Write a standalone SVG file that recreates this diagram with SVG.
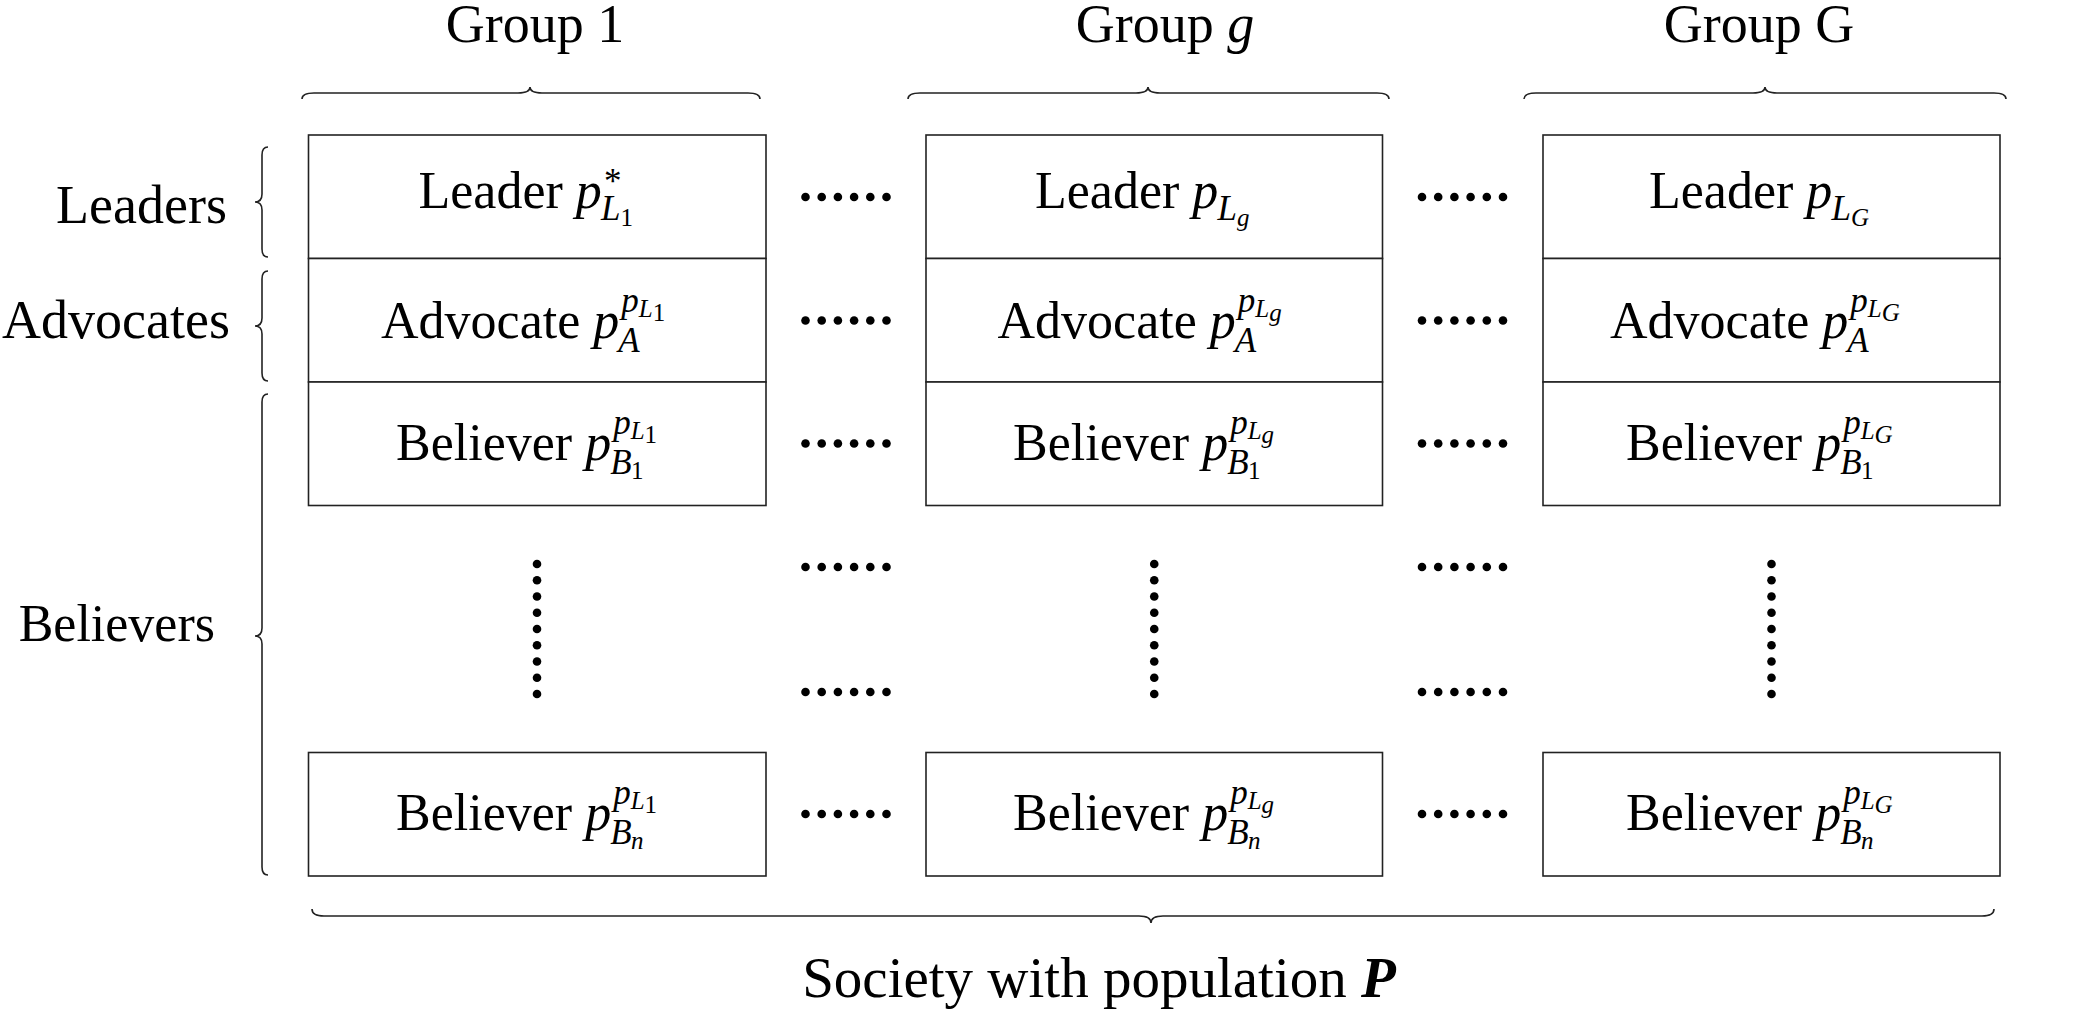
<svg xmlns="http://www.w3.org/2000/svg" width="2080" height="1016" viewBox="0 0 2080 1016">
<style>
text{font-family:"Liberation Serif","Times New Roman",serif;fill:#000}
.m{font-size:52px}
.o{font-size:54px}
.ob{font-size:52px}
.soc{font-size:57px}
.s{font-size:35px}
.ss{font-size:25px}
.i{font-style:italic}
.box{fill:#fff;stroke:#222;stroke-width:1.6}
.br{fill:none;stroke:#222;stroke-width:1.6}
.dot{fill:#000}
</style>
<defs>
<g id="hd"><circle cx="-40.5" cy="0" r="4.3"/><circle cx="-24.3" cy="0" r="4.3"/><circle cx="-8.1" cy="0" r="4.3"/><circle cx="8.1" cy="0" r="4.3"/><circle cx="24.3" cy="0" r="4.3"/><circle cx="40.5" cy="0" r="4.3"/></g>
<g id="vd"><circle cx="0" cy="564" r="4.3"/><circle cx="0" cy="580.25" r="4.3"/><circle cx="0" cy="596.5" r="4.3"/><circle cx="0" cy="612.75" r="4.3"/><circle cx="0" cy="629" r="4.3"/><circle cx="0" cy="645.25" r="4.3"/><circle cx="0" cy="661.5" r="4.3"/><circle cx="0" cy="677.75" r="4.3"/><circle cx="0" cy="694" r="4.3"/></g>
</defs>
<rect width="2080" height="1016" fill="#fff"/>

<g id="titles">
<text class="o" x="535" y="42" text-anchor="middle">Group 1</text>
<text class="o" x="1165" y="42" text-anchor="middle">Group <tspan class="i">g</tspan></text>
<text class="o" x="1759" y="42" text-anchor="middle">Group G</text>
<text class="o" x="227" y="223" text-anchor="end">Leaders</text>
<text class="o" x="230" y="338" text-anchor="end">Advocates</text>
<text class="ob" x="215" y="641" text-anchor="end">Believers</text>
<text class="soc" x="1099" y="997" text-anchor="middle">Society with population <tspan font-weight="bold" font-style="italic">P</tspan></text>
</g>

<g id="braces">
<path class="br" d="M302,99 Q302,93 314,93 L518,93 Q530,93 530,87 Q530,93 542,93 L748,93 Q760,93 760,99"/>
<path class="br" d="M908,99 Q908,93 920,93 L1136,93 Q1148,93 1148,87 Q1148,93 1160,93 L1377,93 Q1389,93 1389,99"/>
<path class="br" d="M1524,99 Q1524,93 1536,93 L1753,93 Q1765,93 1765,87 Q1765,93 1777,93 L1994,93 Q2006,93 2006,99"/>
<path class="br" d="M268,147 Q262,147 262,155 L262,194 Q262,202 255,202 Q262,202 262,210 L262,249 Q262,257 268,257"/>
<path class="br" d="M268,271 Q262,271 262,279 L262,318 Q262,326 255,326 Q262,326 262,334 L262,373 Q262,381 268,381"/>
<path class="br" d="M268,394 Q262,394 262,402 L262,628 Q262,636 255,636 Q262,636 262,644 L262,867 Q262,875 268,875"/>
<path class="br" d="M312,909 Q312,916 324,916 L1139,916 Q1151,916 1151,923 Q1151,916 1163,916 L1982,916 Q1994,916 1994,909"/>
</g>

<g id="col1">
<g id="leader1"><rect class="box" x="308.5" y="135" width="457.5" height="123.5"/>
<text class="m" x="418.5" y="208">Leader <tspan class="i">p</tspan></text>
<text class="s" x="603.9" y="193">*</text><text class="s i" x="600.9" y="220">L</text><text class="ss" x="620.4" y="226">1</text></g>
<g id="advocate1"><rect class="box" x="308.5" y="258.5" width="457.5" height="123.5"/>
<text class="m" x="381" y="338">Advocate <tspan class="i">p</tspan></text>
<text class="s i" x="621.3" y="312">p</text><text class="ss i" x="638.8" y="317">L</text><text class="ss" x="652.7" y="321">1</text><text class="s i" x="618.3" y="352">A</text></g>
<g id="believer1_1"><rect class="box" x="308.5" y="382" width="457.5" height="123.5"/>
<text class="m" x="396" y="460">Believer <tspan class="i">p</tspan></text>
<text class="s i" x="613.2" y="434">p</text><text class="ss i" x="630.7" y="439">L</text><text class="ss" x="644.6" y="443">1</text><text class="s i" x="610.2" y="474">B</text><text class="ss" x="631" y="479">1</text></g>
<g id="believern_1"><rect class="box" x="308.5" y="752.5" width="457.5" height="123.5"/>
<text class="m" x="396" y="830">Believer <tspan class="i">p</tspan></text>
<text class="s i" x="613.2" y="804">p</text><text class="ss i" x="630.7" y="809">L</text><text class="ss" x="644.6" y="813">1</text><text class="s i" x="610.2" y="844">B</text><text class="ss i" x="631" y="849">n</text></g>
</g>

<g id="colg">
<g id="leaderg"><rect class="box" x="926" y="135" width="456.5" height="123.5"/>
<text class="m" x="1035" y="208">Leader <tspan class="i">p</tspan></text>
<text class="s i" x="1217.4" y="220">L</text><text class="ss i" x="1236.9" y="226">g</text></g>
<g id="advocateg"><rect class="box" x="926" y="258.5" width="456.5" height="123.5"/>
<text class="m" x="997.5" y="338">Advocate <tspan class="i">p</tspan></text>
<text class="s i" x="1237.8" y="312">p</text><text class="ss i" x="1255.3" y="317">L</text><text class="ss i" x="1269.2" y="321">g</text><text class="s i" x="1234.8" y="352">A</text></g>
<g id="believer1_g"><rect class="box" x="926" y="382" width="456.5" height="123.5"/>
<text class="m" x="1013" y="460">Believer <tspan class="i">p</tspan></text>
<text class="s i" x="1230.2" y="434">p</text><text class="ss i" x="1247.7" y="439">L</text><text class="ss i" x="1261.6" y="443">g</text><text class="s i" x="1227.2" y="474">B</text><text class="ss" x="1248" y="479">1</text></g>
<g id="believern_g"><rect class="box" x="926" y="752.5" width="456.5" height="123.5"/>
<text class="m" x="1013" y="830">Believer <tspan class="i">p</tspan></text>
<text class="s i" x="1230.2" y="804">p</text><text class="ss i" x="1247.7" y="809">L</text><text class="ss i" x="1261.6" y="813">g</text><text class="s i" x="1227.2" y="844">B</text><text class="ss i" x="1248" y="849">n</text></g>
</g>

<g id="colG">
<g id="leaderG"><rect class="box" x="1543" y="135" width="457" height="123.5"/>
<text class="m" x="1649" y="208">Leader <tspan class="i">p</tspan></text>
<text class="s i" x="1831.4" y="220">L</text><text class="ss i" x="1850.9" y="226">G</text></g>
<g id="advocateG"><rect class="box" x="1543" y="258.5" width="457" height="123.5"/>
<text class="m" x="1610" y="338">Advocate <tspan class="i">p</tspan></text>
<text class="s i" x="1850.3" y="312">p</text><text class="ss i" x="1867.8" y="317">L</text><text class="ss i" x="1881.7" y="321">G</text><text class="s i" x="1847.3" y="352">A</text></g>
<g id="believer1_G"><rect class="box" x="1543" y="382" width="457" height="123.5"/>
<text class="m" x="1626" y="460">Believer <tspan class="i">p</tspan></text>
<text class="s i" x="1843.2" y="434">p</text><text class="ss i" x="1860.7" y="439">L</text><text class="ss i" x="1874.6" y="443">G</text><text class="s i" x="1840.2" y="474">B</text><text class="ss" x="1861" y="479">1</text></g>
<g id="believern_G"><rect class="box" x="1543" y="752.5" width="457" height="123.5"/>
<text class="m" x="1626" y="830">Believer <tspan class="i">p</tspan></text>
<text class="s i" x="1843.2" y="804">p</text><text class="ss i" x="1860.7" y="809">L</text><text class="ss i" x="1874.6" y="813">G</text><text class="s i" x="1840.2" y="844">B</text><text class="ss i" x="1861" y="849">n</text></g>
</g>

<g id="connectors" class="dot">
<use href="#hd" x="846" y="197"/><use href="#hd" x="1462.5" y="197"/>
<use href="#hd" x="846" y="320.5"/><use href="#hd" x="1462.5" y="320.5"/>
<use href="#hd" x="846" y="443.5"/><use href="#hd" x="1462.5" y="443.5"/>
<use href="#hd" x="846" y="567"/><use href="#hd" x="1462.5" y="567"/>
<use href="#hd" x="846" y="692"/><use href="#hd" x="1462.5" y="692"/>
<use href="#hd" x="846" y="814"/><use href="#hd" x="1462.5" y="814"/>
<use href="#vd" x="537" y="0"/><use href="#vd" x="1154.25" y="0"/><use href="#vd" x="1771.5" y="0"/>
</g>
</svg>
